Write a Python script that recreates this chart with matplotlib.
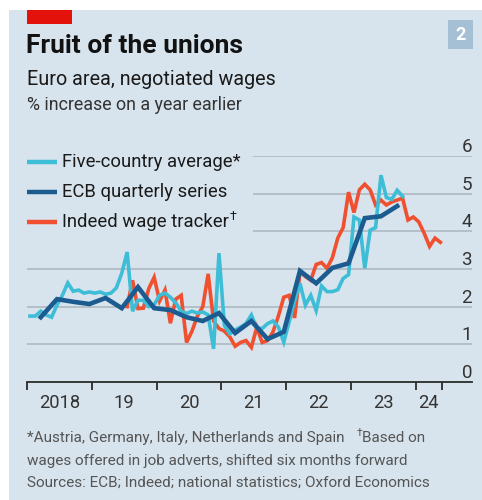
import matplotlib
matplotlib.use("Agg")
import matplotlib.pyplot as plt
from matplotlib import font_manager
from matplotlib.lines import Line2D
from matplotlib.patches import Rectangle

# ---------------- data ----------------
# Five-country average, monthly from Jan 2018
FIVE_START = (2018, 1)
five_country = [
    1.75, 1.75, 1.88, 1.78, 1.72, 2.04, 2.30, 2.63, 2.41, 2.44, 2.36, 2.39,
    2.36, 2.39, 2.33, 2.36, 2.50, 2.89, 3.45, 1.88, 2.17, 2.17, 2.00, 2.05,
    2.30, 2.36, 2.25, 2.10, 1.88, 1.82, 1.88, 1.83, 1.86, 1.78, 0.88, 3.42,
    1.50, 1.28, 1.38, 1.46, 1.55, 1.78, 1.43, 1.42, 1.55, 1.62, 1.46, 1.06,
    1.60, 2.15, 2.62, 2.04, 2.30, 1.90, 2.55, 2.40, 2.40, 2.45, 2.75, 2.85,
    4.38, 4.30, 3.02, 4.03, 4.10, 5.49, 4.90, 4.85, 5.09, 4.93,
]

# Indeed wage tracker (shifted six months forward), monthly from Jul 2019
INDEED_START = (2019, 7)
indeed = [
    2.00, 2.70, 1.95, 1.96, 2.48, 2.78, 2.15, 2.44, 1.56, 2.20, 2.30, 1.05,
    1.35, 1.75, 2.00, 2.87, 1.62, 1.42, 1.35, 1.20, 0.95, 1.05, 1.10, 0.92,
    1.45, 1.05, 1.10, 1.33, 1.75, 2.25, 2.30, 1.70, 2.92, 2.80, 2.70, 3.12,
    3.17, 3.02, 3.30, 3.82, 4.10, 5.04, 4.50, 5.10, 5.25, 5.10, 4.70, 4.83,
    4.70, 4.78, 4.83, 4.88, 4.30, 4.38, 4.25, 3.95, 3.60, 3.82, 3.71,
]

# ECB quarterly series, 2018Q1 - 2023Q3
ECB_START = (2018, 1)
ecb_quarterly = [
    1.72, 2.20, 2.13, 2.07,
    2.23, 1.96, 2.52, 1.96,
    1.91, 1.72, 1.62, 1.83,
    1.30, 1.62, 1.14, 1.33,
    2.95, 2.62, 3.03, 3.15,
    4.35, 4.40, 4.67,
]

year_ticks = [2018, 2019, 2020, 2021, 2022, 2023, 2024]
year_labels = ["2018", "19", "20", "21", "22", "23", "24"]
y_ticks = [0, 1, 2, 3, 4, 5, 6]

# ---------------- helpers ----------------
W, H = 482, 500


def fx(px):
    return px / W


def fy(py):
    return 1 - py / H


def monthly_x(start, n):
    y0, m0 = start
    return [y0 + (m0 - 1 + i + 0.55) / 12 for i in range(n)]


def quarterly_x(start, n):
    y0, q0 = start
    # plotted at the last month of each quarter
    return [y0 + (3 * (q0 - 1 + i) + 2 + 0.55) / 12 for i in range(n)]


installed = {f.name for f in font_manager.fontManager.ttflist}
BODY = "Roboto" if "Roboto" in installed else "DejaVu Sans"
TITLE = "Liberation Sans Narrow" if "Liberation Sans Narrow" in installed else BODY
plt.rcParams["font.family"] = [BODY, "DejaVu Sans"]

BG = "#d7e4ed"
CYAN = "#3dbdd6"
NAVY = "#1c5b8f"
RED = "#f0502f"
GRID = "#aab5bd"
DARK = "#2b2b2b"

# ---------------- figure ----------------
fig = plt.figure(figsize=(4.82, 5.0), dpi=100, facecolor="white")
fig.add_artist(Rectangle((fx(9), 0), 1 - fx(9), fy(10), transform=fig.transFigure,
                         facecolor=BG, edgecolor="none", zorder=0))
fig.add_artist(Rectangle((fx(27), fy(24)), fx(72) - fx(27), fy(10) - fy(24),
                         transform=fig.transFigure, facecolor="#e3120b",
                         edgecolor="none", zorder=1))
fig.add_artist(Rectangle((fx(448), fy(49)), fx(473) - fx(448), fy(20) - fy(49),
                         transform=fig.transFigure, facecolor="#a5c0d4",
                         edgecolor="none", zorder=1))
fig.text(fx(460.5), fy(34.5), "2", color="white", fontsize=13, fontweight="bold",
         ha="center", va="center")

fig.text(fx(26), fy(53), "Fruit of the unions", fontsize=19, fontweight="bold",
         family=[TITLE, "DejaVu Sans"], color="#121212")
fig.text(fx(27), fy(85), "Euro area, negotiated wages", fontsize=14.2, color="#1a1a1a")
fig.text(fx(27), fy(110), "% increase on a year earlier", fontsize=12.9, color="#333333")

# ---------------- axes ----------------
x_left, px_per_year = 27, 64.8
x_right = 472
ax = fig.add_axes([fx(x_left), 1 - 382 / H, (x_right - x_left) / W, (382 - 156) / H])
ax.set_facecolor("none")
ax.set_xlim(2018, 2018 + (x_right - x_left) / px_per_year)
ax.set_ylim(0, 6)
for s in ax.spines.values():
    s.set_visible(False)

grid_short_from = 2018 + (253 - x_left) / px_per_year
for v in y_ticks[1:]:
    start = grid_short_from if v >= 4 else 2018
    ax.plot([start, ax.get_xlim()[1]], [v, v], color=GRID, lw=1.1, zorder=1,
            solid_capstyle="butt")
ax.plot(ax.get_xlim(), [0, 0], color=DARK, lw=1.3, zorder=5, clip_on=False)

for v in y_ticks:
    ax.text(1.0, v, str(v), transform=ax.get_yaxis_transform(), ha="right",
            va="bottom", fontsize=13.5, color="#333333")
ax.set_yticks([])

# x ticks: year boundaries + end of data, labels centred in each year
ax.set_xticks(year_ticks + [2024.4])
ax.set_xticklabels([])
ax.tick_params(axis="x", which="major", direction="out", length=6, width=1.3,
               color=DARK)
label_pos = [y + 0.5 for y in year_ticks[:-1]] + [2024.2]
ax.set_xticks(label_pos, minor=True)
ax.set_xticklabels(year_labels, minor=True, fontsize=13.2, color="#333333")
ax.tick_params(axis="x", which="minor", length=0, pad=9)

ax.plot(monthly_x(INDEED_START, len(indeed)), indeed, color=RED, lw=2.6,
        zorder=3, solid_joinstyle="miter", clip_on=False)
ax.plot(monthly_x(FIVE_START, len(five_country)), five_country, color=CYAN, lw=2.6,
        zorder=3, solid_joinstyle="miter", clip_on=False)
ax.plot(quarterly_x(ECB_START, len(ecb_quarterly)), ecb_quarterly, color=NAVY, lw=3.3,
        zorder=4, solid_joinstyle="miter", clip_on=False)

# ---------------- legend ----------------
renderer = fig.canvas.get_renderer()
legend_items = [("Five-country average*", CYAN), ("ECB quarterly series", NAVY),
                ("Indeed wage tracker", RED)]
for k, (label, col) in enumerate(legend_items):
    yl = 162 + 30 * k
    fig.add_artist(Line2D([fx(27), fx(57)], [fy(yl), fy(yl)], color=col, lw=3.2,
                          transform=fig.transFigure, solid_capstyle="butt"))
    t = fig.text(fx(62), fy(yl + 5), label, fontsize=13.3, color="#1a1a1a")
    if k == 2:
        bb = t.get_window_extent(renderer)
        fig.text(bb.x1 / W + fx(1), fy(yl - 2), "†", fontsize=9, color="#1a1a1a")

# ---------------- footnotes ----------------
NOTE = "#555555"
t = fig.text(fx(27), fy(442), "*Austria, Germany, Italy, Netherlands and Spain",
             fontsize=11, color=NOTE)
bb = t.get_window_extent(renderer)
fig.text(bb.x1 / W + fx(12), fy(436), "†", fontsize=7.5, color=NOTE)
fig.text(bb.x1 / W + fx(17), fy(442), "Based on", fontsize=11, color=NOTE)
fig.text(fx(27), fy(465), "wages offered in job adverts, shifted six months forward",
         fontsize=11, color=NOTE)
fig.text(fx(27), fy(487), "Sources: ECB; Indeed; national statistics; Oxford Economics",
         fontsize=11, color=NOTE)

fig.savefig("out.png", dpi=100, facecolor=fig.get_facecolor())
